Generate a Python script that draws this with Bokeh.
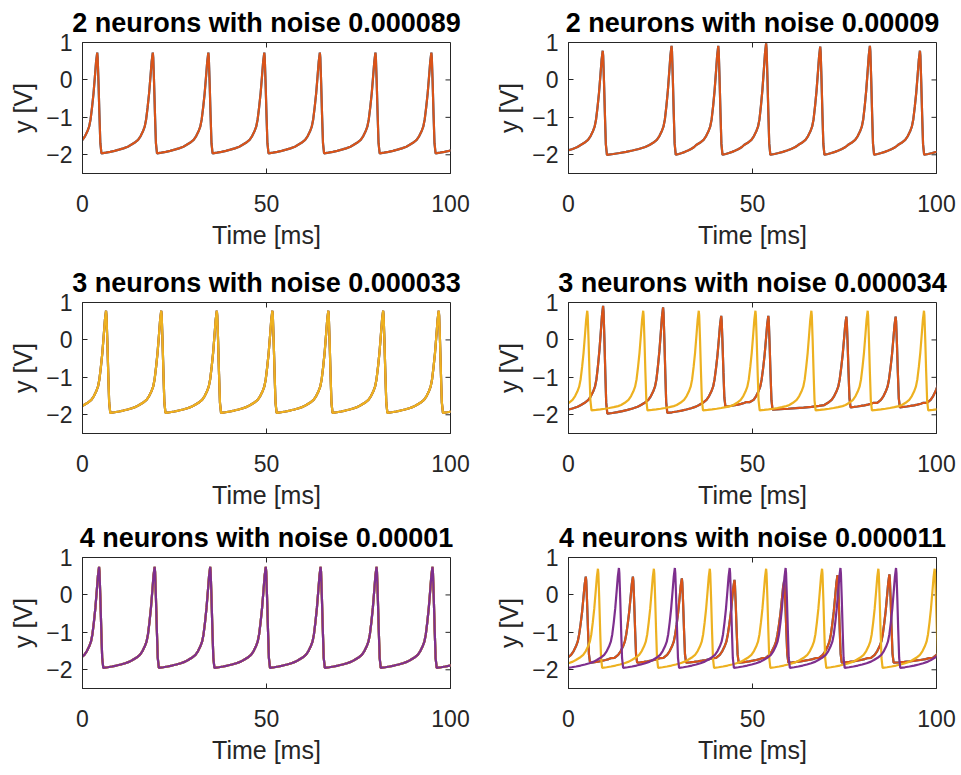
from bokeh.plotting import figure
from bokeh.layouts import column, row
from bokeh.models import FixedTicker, Range1d, Title
from bokeh.embed import file_html
from bokeh.resources import INLINE

BLUE = "#0072BD"
ORANGE = "#D95319"
YELLOW = "#EDB120"
PURPLE = "#7E2F8E"
AX = "#262626"
FONT = "Liberation Sans"

titles = ["2 neurons with noise 0.000089", "2 neurons with noise 0.00009",
          "3 neurons with noise 0.000033", "3 neurons with noise 0.000034",
          "4 neurons with noise 0.00001", "4 neurons with noise 0.000011"]
x_ticks = [0, 50, 100]
y_ticks = [-2, -1, 0, 1]
X_MIN, X_MAX = 0, 100
Y_MIN, Y_MAX = -2.5, 1

# spike shape (offsets in ms, values as fractions / V)
fall_dt = [0.12, 0.35, 0.6, 0.85, 1.15]
fall_f = [0.05, 0.3, 0.62, 0.9, 1.0]
mid_t = [0.15, 0.3, 0.45, 0.6, 0.75, 0.9]
mid_v = [0.08, 0.18, 0.30, 0.44, 0.60, 0.80]
pre_dt = -6.0
pre_v = -1.74
rise_dt = [-5.0, -4.0, -3.3, -2.7, -2.2, -1.8]
rise_v = [-1.68, -1.60, -1.50, -1.38, -1.25, -1.05]
top_dt = [-1.4, -1.0, -0.6, -0.3, 0.0]
top_f = [0.18, 0.39, 0.66, 0.87, 1.0]

# spike peak times (ms), peak heights (V) and trough levels (V), per neuron
p1_peaks = [-11.0, 4.0, 19.1, 34.2, 49.4, 64.5, 79.6, 94.8, 110.0]
p1_heights = [0.73, 0.73, 0.73, 0.73, 0.73, 0.73, 0.73, 0.73, 0.73]
p1_trough = -1.96

p2_peaks = [-6.5, 9.3, 28.0, 40.7, 53.7, 68.4, 81.9, 95.5, 110.0]
p2_heights = [0.75, 0.78, 0.91, 0.91, 0.98, 0.89, 0.91, 0.78, 0.80]
p2_trough = -2.0

p3_peaks = [-8.7, 6.4, 21.4, 36.5, 51.6, 66.8, 81.7, 96.8, 112.0]
p3_heights = [0.78, 0.78, 0.78, 0.78, 0.78, 0.78, 0.78, 0.78, 0.78]
p3_trough = -1.95

p4_yellow_peaks = [-10.2, 5.1, 20.3, 35.4, 50.8, 66.0, 81.3, 96.6, 112.0]
p4_yellow_heights = [0.78, 0.78, 0.78, 0.78, 0.78, 0.78, 0.78, 0.78, 0.78]
p4_yellow_trough = -1.88
p4_red_peaks = [-7.0, 9.4, 25.7, 41.5, 54.3, 75.5, 88.9, 102.4]
p4_red_heights = [0.80, 0.91, 0.87, 0.64, 0.64, 0.62, 0.62, 0.60]
p4_red_trough = [-1.97, -1.97, -1.95, -1.78, -1.86, -1.80, -1.80]

p5_peaks = [-10.6, 4.5, 19.6, 34.7, 49.8, 64.7, 79.9, 95.1, 110.2]
p5_heights = [0.75, 0.75, 0.75, 0.75, 0.75, 0.75, 0.75, 0.75, 0.75]
p5_trough = -1.95

p6_red_peaks = [-8.0, 4.7, 17.5, 30.8, 45.1, 58.6, 73.1, 87.2, 104.0]
p6_red_heights = [0.45, 0.49, 0.49, 0.44, 0.40, 0.38, 0.53, 0.55, 0.50]
p6_red_trough = -1.81
p6_yellow_peaks = [-7.2, 8.0, 23.2, 38.4, 53.7, 68.9, 84.2, 99.5, 115.0]
p6_yellow_heights = [0.70, 0.70, 0.70, 0.70, 0.70, 0.70, 0.70, 0.70, 0.70]
p6_yellow_trough = -1.95
p6_purple_peaks = [-1.5, 13.7, 28.9, 43.8, 59.0, 73.9, 89.0, 104.5]
p6_purple_heights = [0.72, 0.72, 0.72, 0.72, 0.72, 0.72, 0.72, 0.72]
p6_purple_trough = -1.95


def trace(peaks, heights, trough):
    n = len(peaks)
    troughs = trough if isinstance(trough, list) else [trough] * (n - 1)
    xs, ys = [peaks[0]], [heights[0]]
    for i in range(n - 1):
        a, b = peaks[i], peaks[i + 1]
        pa, pb, lo = heights[i], heights[i + 1], troughs[i]
        for d, f in zip(fall_dt, fall_f):
            xs.append(a + d); ys.append(pa - (pa - lo) * f)
        vp = max(pre_v, lo + 0.12)
        s, e = a + fall_dt[-1], b + pre_dt
        for f, g in zip(mid_t, mid_v):
            xs.append(s + (e - s) * f); ys.append(lo + (vp - lo) * g)
        xs.append(e); ys.append(vp)
        for d, v in zip(rise_dt, rise_v):
            xs.append(b + d); ys.append(max(v, vp))
        for d, f in zip(top_dt, top_f):
            xs.append(b + d); ys.append(-1.05 + (pb + 1.05) * f)
    return xs, ys


panels = [
    [(p1_peaks, p1_heights, p1_trough, BLUE), (p1_peaks, p1_heights, p1_trough, ORANGE)],
    [(p2_peaks, p2_heights, p2_trough, BLUE), (p2_peaks, p2_heights, p2_trough, ORANGE)],
    [(p3_peaks, p3_heights, p3_trough, BLUE), (p3_peaks, p3_heights, p3_trough, ORANGE),
     (p3_peaks, p3_heights, p3_trough, YELLOW)],
    [(p4_red_peaks, p4_red_heights, p4_red_trough, BLUE),
     (p4_red_peaks, p4_red_heights, p4_red_trough, ORANGE),
     (p4_yellow_peaks, p4_yellow_heights, p4_yellow_trough, YELLOW)],
    [(p5_peaks, p5_heights, p5_trough, BLUE), (p5_peaks, p5_heights, p5_trough, ORANGE),
     (p5_peaks, p5_heights, p5_trough, YELLOW), (p5_peaks, p5_heights, p5_trough, PURPLE)],
    [(p6_red_peaks, p6_red_heights, p6_red_trough, BLUE),
     (p6_red_peaks, p6_red_heights, p6_red_trough, ORANGE),
     (p6_yellow_peaks, p6_yellow_heights, p6_yellow_trough, YELLOW),
     (p6_purple_peaks, p6_purple_heights, p6_purple_trough, PURPLE)],
]

TICK_FS = "23px"
LABEL_FS = "25px"
TITLE_FS = "27px"
FW, FH = 368, 131
TICK_PX = 5


def style(ax):
    ax.major_tick_in = TICK_PX
    ax.major_tick_out = 0
    ax.minor_tick_line_color = None
    ax.axis_line_color = AX
    ax.major_tick_line_color = AX
    ax.major_label_text_font = FONT
    ax.major_label_text_color = AX
    ax.major_label_text_font_size = TICK_FS
    ax.axis_label_text_font = FONT
    ax.axis_label_text_color = AX
    ax.axis_label_text_font_style = "normal"
    ax.axis_label_text_font_size = LABEL_FS


def make(idx, left_border, right_border, top_border, bottom_border):
    p = figure(frame_width=FW, frame_height=FH,
               x_range=Range1d(X_MIN, X_MAX), y_range=Range1d(Y_MIN, Y_MAX),
               output_backend="svg", toolbar_location=None,
               min_border_left=left_border, min_border_right=right_border,
               min_border_top=top_border, min_border_bottom=bottom_border,
               background_fill_color="white", border_fill_color="white")
    p.title = Title(text=titles[idx], align="center", text_font=FONT,
                    text_font_size=TITLE_FS, text_font_style="bold",
                    text_color="#000000", standoff=10)
    p.grid.visible = False
    p.outline_line_color = AX
    p.outline_line_width = 1
    p.outline_line_alpha = 1
    p.xaxis.ticker = FixedTicker(ticks=x_ticks)
    p.yaxis.ticker = FixedTicker(ticks=y_ticks)
    p.xaxis.axis_label = "Time [ms]"
    p.yaxis.axis_label = "y [V]"
    for ax in p.xaxis:
        style(ax)
        ax.major_label_standoff = 21
        ax.axis_label_standoff = 6
    for ax in p.yaxis:
        style(ax)
        ax.major_label_standoff = 10
        ax.axis_label_standoff = 6
    # inward ticks on the top and right edges of the box
    ty = TICK_PX * (Y_MAX - Y_MIN) / FH
    tx = TICK_PX * (X_MAX - X_MIN) / FW
    p.segment(x0=x_ticks, y0=[Y_MAX] * len(x_ticks), x1=x_ticks,
              y1=[Y_MAX - ty] * len(x_ticks), line_color=AX, line_width=1)
    p.segment(x0=[X_MAX] * len(y_ticks), y0=y_ticks, x1=[X_MAX - tx] * len(y_ticks),
              y1=y_ticks, line_color=AX, line_width=1)
    for peaks, heights, trough, color in panels[idx]:
        xs, ys = trace(peaks, heights, trough)
        p.line(xs, ys, line_color=color, line_width=2.2, line_alpha=1.0)
    return p


figs = []
borders = [(42, 87), (42, 82), (42, 80)]
for r in range(3):
    tb, bb = borders[r]
    a = make(2 * r, 82, 42, tb, bb)
    b = make(2 * r + 1, 76, 20, tb, bb)
    figs.append(row(a, b))

layout = column(*figs)
open("out.html", "w").write(file_html(layout, INLINE))
